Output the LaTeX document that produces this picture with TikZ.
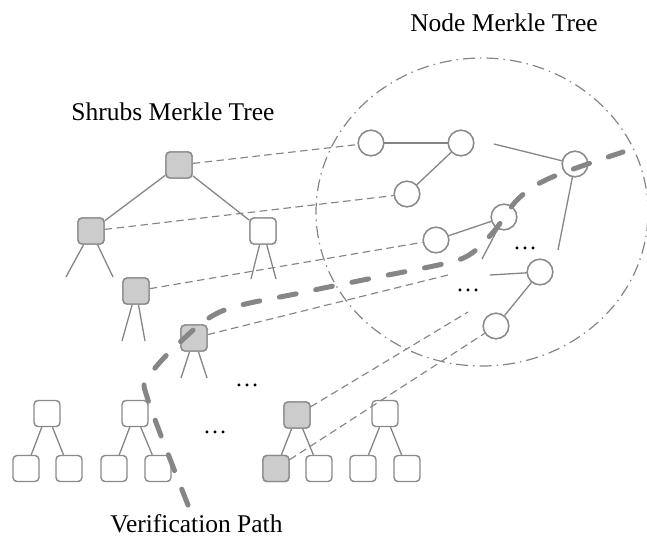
\documentclass[tikz,border=0pt]{standalone}
\usepackage{fontspec}
\setmainfont{Liberation Serif}
\definecolor{linegray}{HTML}{858585}
\definecolor{boxgray}{HTML}{8A8A8A}
\definecolor{boxfill}{HTML}{CCCCCC}
\definecolor{pathgray}{HTML}{868686}
\begin{document}
\begin{tikzpicture}[x=1pt,y=-1pt,
  treeline/.style={draw=linegray, line width=1.3pt},
  hbox/.style={draw=boxgray, line width=1.4pt, rounded corners=4pt, minimum size=26pt, inner sep=0pt, fill=white},
  hboxon/.style={hbox, fill=boxfill},
  hnode/.style={circle, draw=boxgray, line width=1.4pt, minimum size=25.5pt, inner sep=0pt, fill=white},
  link/.style={draw=linegray, line width=1.15pt, dash pattern=on 7.5pt off 4.5pt},
  rim/.style={draw=linegray, line width=1.2pt, dash pattern=on 12pt off 5pt on 1.5pt off 5pt},
  title/.style={font=\fontsize{25.5}{30}\selectfont, anchor=base, inner sep=0pt},
  more/.style={font=\fontsize{24}{28}\selectfont, anchor=base, inner sep=0pt},
  vpath/.style={draw=pathgray, line width=5pt, line cap=round, dash pattern=on 17pt off 20pt}
]
\useasboundingbox (0,0) rectangle (647,542);

% boundary of the node tree
\draw[rim] (482,212) ellipse [x radius=166pt, y radius=154pt];

% node Merkle tree
\node[hnode] (c1) at (371,143) {};
\node[hnode] (c2) at (461,143) {};
\node[hnode] (c3) at (407,194) {};
\node[hnode] (c4) at (575,164) {};
\node[hnode] (c5) at (504,217) {};
\node[hnode] (c6) at (436,240) {};
\node[hnode] (c7) at (540,272) {};
\node[hnode] (c8) at (496,326) {};
\coordinate (c4in) at (494,144);
\coordinate (c4out) at (558,250);
\coordinate (c5out) at (482,259);
\coordinate (c7in) at (490,275);

% shrubs Merkle tree
\node[hboxon] (s1) at (179,165) {};
\node[hboxon] (s2) at (91,231) {};
\node[hbox]   (s3) at (263,231) {};
\node[hboxon] (s4) at (136,291) {};
\node[hboxon] (s5) at (194,338) {};
\coordinate (s2a) at (66,277);  \coordinate (s2b) at (113,277);
\coordinate (s3a) at (251,279); \coordinate (s3b) at (276,279);
\coordinate (s4a) at (122,341); \coordinate (s4b) at (145,341);
\coordinate (s5a) at (181,378); \coordinate (s5b) at (207,378);

% bottom shrubs
\node[hbox]   (a)  at (47,413.5) {};
\node[hbox]   (a1) at (26,468.5) {};
\node[hbox]   (a2) at (69,468.5) {};
\node[hbox]   (b)  at (135,413.5) {};
\node[hbox]   (b1) at (114,468.5) {};
\node[hbox]   (b2) at (158,468.5) {};
\node[hboxon] (d)  at (297,415) {};
\node[hboxon] (d1) at (276,468.5) {};
\node[hbox]   (d2) at (319,468.5) {};
\node[hbox]   (e)  at (385,413.5) {};
\node[hbox]   (e1) at (363,468.5) {};
\node[hbox]   (e2) at (407,468.5) {};

\coordinate (s5end) at (448,275);
\coordinate (dend) at (468,312);

% links between the trees
\path[link] (s1) -- (c1);
\path[link] (s2) -- (c3);
\path[link] (s4) -- (c6);
\path[link] (s5) -- (s5end);
\path[link] (d) -- (dend);
\path[link] (d1) -- (c8);

% tree edges
\path[treeline] (c1) -- (c2);
\path[treeline] (c2) -- (c3);
\path[treeline] (c4in) -- (c4);
\path[treeline] (c4) -- (c4out);
\path[treeline] (c5) -- (c6);
\path[treeline] (c5) -- (c5out);
\path[treeline] (c7in) -- (c7);
\path[treeline] (c7) -- (c8);

\path[treeline] (s1) -- (s2);
\path[treeline] (s1) -- (s3);
\path[treeline] (s2) -- (s2a); \path[treeline] (s2) -- (s2b);
\path[treeline] (s3) -- (s3a); \path[treeline] (s3) -- (s3b);
\path[treeline] (s4) -- (s4a); \path[treeline] (s4) -- (s4b);
\path[treeline] (s5) -- (s5a); \path[treeline] (s5) -- (s5b);

\path[treeline] (a) -- (a1); \path[treeline] (a) -- (a2);
\path[treeline] (b) -- (b1); \path[treeline] (b) -- (b2);
\path[treeline] (d) -- (d1); \path[treeline] (d) -- (d2);
\path[treeline] (e) -- (e1); \path[treeline] (e) -- (e2);

% redraw boxes and circles over the links
\foreach \n in {c1,c2,c3,c4,c5,c6,c7,c8}{\node[hnode] at (\n) {};}
\node[hboxon] at (s1) {}; \node[hboxon] at (s2) {}; \node[hbox] at (s3) {};
\node[hboxon] at (s4) {}; \node[hboxon] at (s5) {};
\node[hboxon] at (d) {}; \node[hboxon] at (d1) {};

% elided parts
\node[more] (m1) at (525,249.5) {…};
\node[more] (m2) at (468,291.5) {…};
\node[more] (m3) at (247,386.5) {…};
\node[more] (m4) at (215,433) {…};

% verification path, drawn from its lower end
\draw[vpath] plot[smooth, tension=0.55] coordinates {
  (188,505) (148,400) (148,378) (178,344) (222,311) (300,293)
  (373,278) (447,263) (472,253) (495,230) (518,199) (550,178) (623,152)};

% titles
\node[title] (tnode) at (504,31.7) {Node Merkle Tree};
\node[title] (tshrub) at (173,120.7) {Shrubs Merkle Tree};
\node[title] (tpath) at (196.5,532.3) {Verification Path};
\end{tikzpicture}
\end{document}
